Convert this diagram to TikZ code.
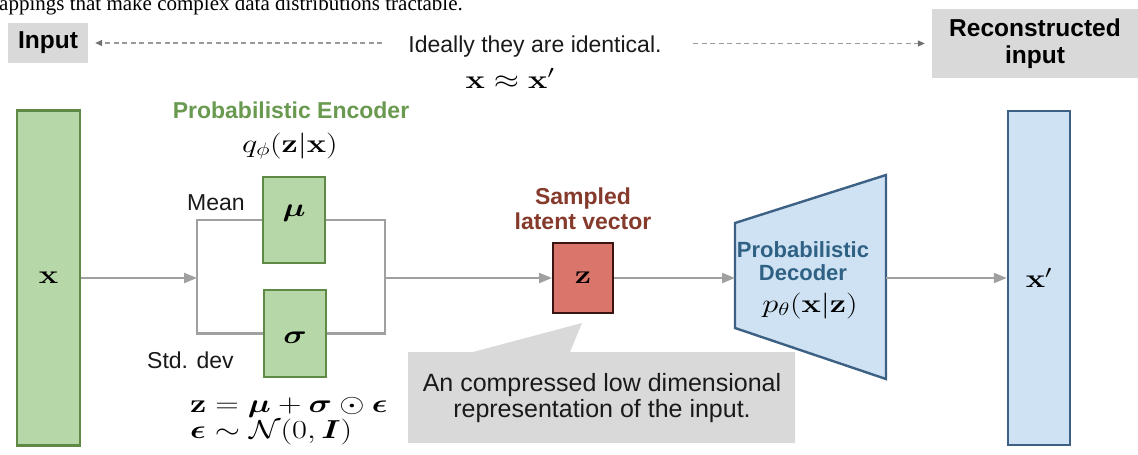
\RequirePackage{fix-cm}
\documentclass[tikz,border=0pt]{standalone}
\usepackage{amsmath}
\usepackage{bm}
\usepackage[no-math]{fontspec}
\setmainfont{Liberation Sans}
\newfontfamily\captionserif{Liberation Serif}
\usetikzlibrary{arrows.meta}

% formulas are set slightly wide
\newcommand\widemath[1]{\scalebox{1.25}[1]{$#1$}}

\definecolor{encfill}{HTML}{B6D7A8}
\definecolor{encdraw}{HTML}{5E8A45}
\definecolor{enctext}{HTML}{6A9A50}
\definecolor{decfill}{HTML}{CFE2F3}
\definecolor{decdraw}{HTML}{3D6184}
\definecolor{dectext}{HTML}{2F6184}
\definecolor{latfill}{HTML}{D9756B}
\definecolor{latdraw}{HTML}{3A1410}
\definecolor{lattext}{HTML}{853A2C}
\definecolor{wirecol}{HTML}{A0A0A0}
\definecolor{hintcol}{HTML}{9A9A9A}
\definecolor{hinttip}{HTML}{707070}
\definecolor{panel}{HTML}{D9D9D9}
\definecolor{ink}{HTML}{1A1A1A}

\tikzset{
  txt/.style={inner sep=0pt, text=ink, font=\fontsize{23}{26}\selectfont},
  bigtxt/.style={inner sep=0pt, text=ink, font=\fontsize{25}{26}\selectfont},
  mth/.style={inner sep=0pt, text=black, font=\fontsize{26}{30}\selectfont},
  panelbox/.style={fill=panel, inner sep=0pt, text=black,
    font=\bfseries\fontsize{24.5}{27}\selectfont},
  vecbox/.style={draw=encdraw, fill=encfill, line width=2.4pt, minimum width=63pt,
    inner sep=0pt, font=\fontsize{26}{30}\selectfont},
  encbox/.style={draw=encdraw, fill=encfill, line width=2.4pt, minimum width=62pt,
    minimum height=86pt, inner sep=0pt},
  outbox/.style={draw=decdraw, fill=decfill, line width=2.4pt, minimum width=62pt,
    inner sep=0pt, font=\fontsize{26}{30}\selectfont},
  latbox/.style={draw=latdraw, fill=latfill, line width=2pt, minimum width=60pt,
    minimum height=70pt, inner sep=0pt, font=\fontsize{26}{30}\selectfont},
  enchead/.style={inner sep=0pt, text=enctext, font=\bfseries\fontsize{23}{26}\selectfont},
  lathead/.style={inner sep=0pt, text=lattext, font=\bfseries\fontsize{23}{25}\selectfont},
  dechead/.style={inner sep=0pt, text=dectext, font=\bfseries\fontsize{22}{23}\selectfont},
  decshape/.style={draw=decdraw, fill=decfill, line width=2.4pt, line join=miter},
  wire/.style={draw=wirecol, line width=2.2pt},
  flow/.style={wire, -{Triangle[length=13pt,width=10pt]}},
  hint/.style={draw=hintcol, line width=1.3pt, dash pattern=on 5pt off 3.5pt,
    -{Triangle[length=7pt,width=6pt,color=hinttip,fill=hinttip]}, shorten >=7pt}
}

\begin{document}
\begin{tikzpicture}[x=1pt,y=-1pt]
\useasboundingbox (0,0) rectangle (1138,455);
\fill[white] (0,0) rectangle (1138,455);

% running text cut by the top edge
\begin{scope}
  \clip (0,0) rectangle (1138,455);
  \node[anchor=base west, inner sep=0pt, font=\captionserif\fontsize{21}{25}\selectfont]
    (captionline) at (-1,10) {appings that make complex data distributions tractable.};
\end{scope}

% ---- top row: input and reconstruction ----
\node[panelbox, minimum width=80pt, minimum height=40pt] (inbox) at (48,43) {Input};
\node[panelbox, minimum width=206pt, minimum height=69pt, align=center]
  (recbox) at (1035,43.5) {Reconstructed\\input};
\coordinate (dashL) at (382,43);
\coordinate (dashR) at (693,43.5);
\draw[hint] (dashL) -- (inbox);
\draw[hint] (dashR) -- (recbox);
\node[txt, anchor=base] (ideal) at (535,52) {Ideally they are identical.};
\node[mth, anchor=base] (approx) at (510,88) {\widemath{\mathbf{x}\approx\mathbf{x}'}};

% ---- encoder ----
\node[vecbox, minimum height=335pt] (xin) at (48.5,278) {\widemath{\mathbf{x}}};
\node[enchead, anchor=base] (enclabel) at (291,118) {Probabilistic Encoder};
\node[mth, anchor=base] (qform) at (290,152) {\widemath{q_\phi(\mathbf{z}|\mathbf{x})}};

\node[encbox] (mu) at (294,220) {};
\node[mth] (mulabel) at ([yshift=7pt]mu.center) {\widemath{\bm{\mu}}};
\node[encbox, minimum height=87pt] (sigma) at (295,333.5) {};
\node[mth] (sigmalabel) at ([yshift=-4pt]sigma.center) {\widemath{\bm{\sigma}}};

\node[txt, anchor=base west] (meanlabel) at (187,210) {Mean};
\node[txt, anchor=base west] (stdlabel) at (147,368) {Std. dev};
\node[mth, anchor=base west] (reparam) at (190,412)
  {\widemath{\mathbf{z}=\bm{\mu}+\bm{\sigma}\odot\bm{\epsilon}}};
\node[mth, anchor=base west] (noise) at (190,438)
  {\widemath{\bm{\epsilon}\sim\mathcal{N}(0,\bm{I})}};

\coordinate (split) at (197,278);
\coordinate (merge) at (385,278);
\draw[wire] (mu.west) -| (split) |- (sigma.west);
\draw[wire] (mu.east) -| (merge) |- (sigma.east);
\draw[flow] (xin) -- (split);

% ---- latent vector ----
\node[latbox] (z) at (583,278) {\widemath{\mathbf{z}}};
\node[lathead, align=center] (latlabel) at (583,209) {Sampled\\latent vector};
\draw[flow] (merge) -- (z);

% ---- decoder ----
\coordinate (decin) at (735,278);
\coordinate (decout) at (886,278);
\draw[decshape] (735,223) -- (886,175) -- (886,379) -- (735,328) -- cycle;
\node[dechead, align=center] (declabel) at (803,261) {Probabilistic\\Decoder};
\node[mth, anchor=base] (pform) at (810,312) {\widemath{p_\theta(\mathbf{x}|\mathbf{z})}};
\draw[flow] (z) -- (decin);

\node[outbox, minimum height=334pt] (xout) at (1039,278) {\widemath{\mathbf{x}'}};
\draw[flow] (decout) -- (xout);

% ---- callout under the latent vector ----
\fill[panel] (408,352) -- (473,352) -- (582,323) -- (570,352) -- (795,352)
  -- (795,443) -- (408,443) -- cycle;
\node[bigtxt, align=center] (note) at (602,398.5)
  {An compressed low dimensional\\representation of the input.};
\end{tikzpicture}
\end{document}
